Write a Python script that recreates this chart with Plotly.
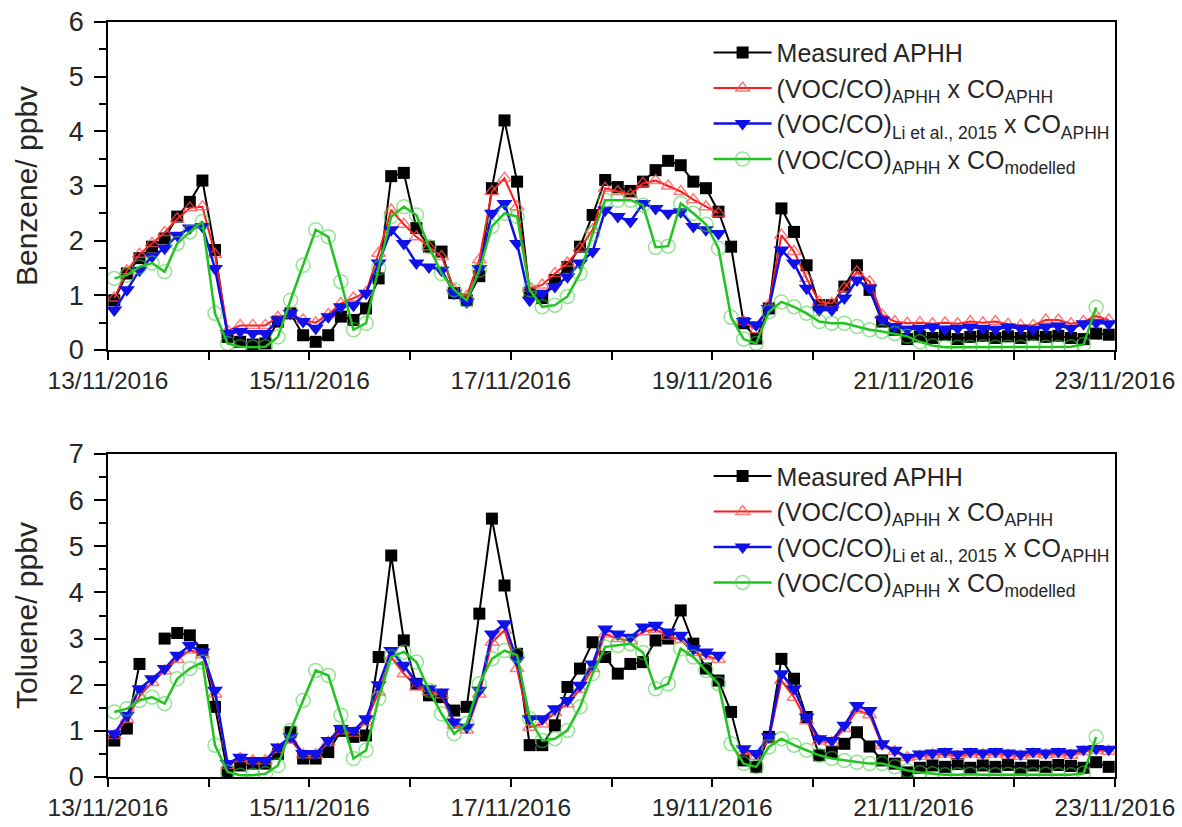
import pandas as pd
import plotly.graph_objects as go

times = pd.date_range("2016-11-13 01:30", periods=80, freq="3h")

benzene_measured = [
    0.91, 1.40, 1.68, 1.89, 2.04, 2.44, 2.71, 3.10,
    1.83, 0.24, 0.15, 0.10, 0.12, 0.52, 0.67, 0.27,
    0.15, 0.27, 0.61, 0.55, 0.76, 1.31, 3.18, 3.24,
    2.23, 1.89, 1.80, 1.04, 0.91, 1.35, 2.96, 4.20,
    3.08, 1.04, 0.95, 1.28, 1.52, 1.89, 2.47, 3.11,
    2.98, 2.91, 3.08, 3.29, 3.46, 3.38, 3.08, 2.96,
    2.53, 1.89, 0.49, 0.21, 0.76, 2.59, 2.16, 1.55,
    0.82, 0.82, 1.16, 1.55, 1.10, 0.52, 0.37, 0.20,
    0.25, 0.22, 0.28, 0.20, 0.24, 0.26, 0.22, 0.25,
    0.22, 0.28, 0.24, 0.26, 0.22, 0.20, 0.30, 0.28]
benzene_ratio_aphh = [
    0.95, 1.45, 1.75, 1.95, 2.15, 2.40, 2.60, 2.62,
    1.75, 0.35, 0.45, 0.45, 0.45, 0.60, 0.65, 0.55,
    0.50, 0.65, 0.85, 0.95, 1.05, 1.77, 2.56, 2.30,
    2.07, 1.89, 1.71, 1.10, 0.98, 1.65, 2.90, 3.14,
    2.62, 1.13, 1.19, 1.40, 1.59, 1.86, 2.20, 2.96,
    2.90, 2.84, 3.05, 3.10, 3.00, 2.90, 2.75, 2.62,
    2.50, None, 0.52, 0.37, 0.82, 2.10, 1.80, 1.31,
    0.88, 0.85, 1.13, 1.43, 1.25, 0.64, 0.52, 0.49,
    0.50, 0.48, 0.50, 0.48, 0.52, 0.50, 0.52, 0.47,
    0.45, 0.45, 0.55, 0.55, 0.48, 0.52, 0.62, 0.55]
benzene_ratio_li = [
    0.73, 1.10, 1.46, 1.71, 1.86, 2.10, 2.23, 2.26,
    1.49, 0.30, 0.34, 0.30, 0.30, 0.55, 0.67, 0.52,
    0.40, 0.61, 0.79, 0.82, 1.04, 1.59, 2.20, 1.95,
    1.59, 1.52, 1.46, 1.04, 0.88, 1.49, 2.50, 2.68,
    1.95, 0.91, 1.04, 1.16, 1.34, 1.59, 1.80, 2.56,
    2.44, 2.35, 2.68, 2.59, 2.50, 2.53, 2.26, 2.20,
    2.13, None, 0.52, 0.46, 0.76, 1.83, 1.59, 1.13,
    0.73, 0.73, 0.95, 1.28, 1.13, 0.55, 0.43, 0.38,
    0.40, 0.42, 0.38, 0.40, 0.42, 0.40, 0.38, 0.42,
    0.40, 0.38, 0.42, 0.44, 0.40, 0.48, 0.50, 0.48]
benzene_modelled = [
    1.31, 1.37, 1.52, 1.59, 1.43, 1.95, 2.16, 2.35,
    0.67, 0.12, 0.06, 0.05, 0.06, 0.24, 0.91, 1.55,
    2.20, 2.07, 1.25, 0.37, 0.49, 1.50, 2.44, 2.62,
    2.47, 1.89, 1.40, 1.10, 0.91, 1.46, 2.26, 2.50,
    2.44, 1.10, 0.79, 0.82, 0.98, 1.40, 2.13, 2.74,
    2.74, 2.74, 2.65, 1.88, 1.90, 2.68, 2.50, 2.30,
    1.86, 0.60, 0.20, 0.12, 0.70, 0.88, 0.79, 0.67,
    0.52, 0.49, 0.49, 0.43, 0.37, 0.34, 0.30, 0.25,
    0.15, 0.08, 0.05, 0.05, 0.05, 0.06, 0.05, 0.05,
    0.05, 0.06, 0.05, 0.05, 0.06, 0.10, 0.78, None]

toluene_measured = [
    0.79, 1.05, 2.45, None, 3.00, 3.12, 3.07, 2.75,
    1.52, 0.10, 0.25, 0.29, 0.29, 0.50, 0.97, 0.40,
    0.40, 0.54, 1.00, 0.87, 0.90, 2.60, 4.80, 2.96,
    2.02, 1.77, 1.73, 1.44, 1.52, 3.54, 5.60, 4.15,
    2.67, 0.69, 0.69, 1.12, 1.95, 2.35, 2.92, 2.60,
    2.24, 2.45, 2.49, 2.96, 3.00, 3.61, 2.89, 2.35,
    2.09, 1.41, 0.36, 0.22, 0.87, 2.56, 2.13, 1.30,
    0.47, 0.54, 0.72, 0.97, 0.66, 0.36, 0.29, 0.10,
    0.20, 0.25, 0.22, 0.28, 0.20, 0.25, 0.22, 0.26,
    0.20, 0.25, 0.22, 0.26, 0.24, 0.20, 0.32, 0.22]
toluene_ratio_aphh = [
    0.90, 1.25, 1.75, 2.05, 2.30, 2.55, 2.75, 2.65,
    1.80, 0.25, 0.40, 0.35, 0.35, 0.60, 0.80, 0.48,
    0.48, 0.75, 1.00, 0.95, 1.20, 1.84, 2.60, 2.24,
    1.95, 1.85, 1.78, 1.12, 1.02, 1.80, 2.92, 3.18,
    2.35, 1.08, 1.15, 1.40, 1.58, 1.90, 2.35, 3.10,
    3.00, 2.95, 3.15, 3.20, 3.05, 2.98, 2.70, 2.62,
    2.55, None, 0.55, 0.45, 0.80, 2.09, 1.73, 1.22,
    0.78, 0.75, 1.05, 1.45, 1.35, 0.68, 0.55, 0.42,
    0.45, 0.48, 0.50, 0.45, 0.50, 0.48, 0.50, 0.47,
    0.45, 0.50, 0.48, 0.50, 0.47, 0.55, 0.58, 0.56]
toluene_ratio_li = [
    0.94, 1.34, 1.91, 2.13, 2.35, 2.64, 2.85, 2.71,
    1.88, 0.29, 0.43, 0.36, 0.36, 0.65, 0.87, 0.51,
    0.51, 0.79, 1.05, 1.01, 1.26, 2.00, 2.74, 2.42,
    2.06, 1.91, 1.84, 1.19, 1.08, 1.88, 3.10, 3.32,
    2.53, 1.26, 1.26, 1.48, 1.66, 1.99, 2.45, 3.21,
    3.10, 3.03, 3.25, 3.29, 3.14, 3.07, 2.78, 2.71,
    2.64, None, 0.61, 0.51, 0.87, 2.24, 1.91, 1.30,
    0.83, 0.79, 1.12, 1.55, 1.44, 0.72, 0.58, 0.43,
    0.50, 0.52, 0.55, 0.50, 0.55, 0.52, 0.55, 0.52,
    0.50, 0.55, 0.52, 0.55, 0.52, 0.60, 0.62, 0.60]
toluene_modelled = [
    1.41, 1.48, 1.66, 1.73, 1.59, 2.13, 2.35, 2.49,
    0.69, 0.11, 0.04, 0.04, 0.07, 0.25, 1.01, 1.66,
    2.31, 2.20, 1.34, 0.40, 0.58, 1.70, 2.60, 2.71,
    2.49, 1.88, 1.37, 0.94, 1.16, 2.02, 2.56, 2.74,
    2.64, 1.26, 0.79, 0.83, 1.01, 1.52, 2.24, 2.82,
    2.85, 2.89, 2.70, 1.91, 2.02, 2.78, 2.60, 2.31,
    2.02, 0.72, 0.29, 0.22, 0.65, 0.83, 0.69, 0.58,
    0.47, 0.40, 0.36, 0.32, 0.29, 0.29, 0.22, 0.14,
    0.10, 0.07, 0.05, 0.05, 0.06, 0.05, 0.05, 0.06,
    0.05, 0.05, 0.06, 0.05, 0.05, 0.08, 0.87, None]

names = [
    "Measured APHH",
    "(VOC/CO)<sub>APHH</sub> x CO<sub>APHH</sub>",
    "(VOC/CO)<sub>Li et al., 2015</sub> x CO<sub>APHH</sub>",
    "(VOC/CO)<sub>APHH</sub> x CO<sub>modelled</sub>",
]

styles = [
    dict(line=dict(color="#000000", width=2),
         marker=dict(symbol="square", size=12, color="#000000")),
    dict(line=dict(color="#ff1a1a", width=2),
         marker=dict(symbol="triangle-up-open", size=12, color="rgba(255,80,80,0.75)",
                     line=dict(width=1.5))),
    dict(line=dict(color="#1010e8", width=2.5),
         marker=dict(symbol="triangle-down", size=14, color="#1010e8")),
    dict(line=dict(color="#1fc41f", width=2.5),
         marker=dict(symbol="circle-open", size=14, color="rgba(60,205,60,0.55)",
                     line=dict(width=1.5))),
]

FONT = "Arial, Liberation Sans, sans-serif"
TXT = "#262626"
fig = go.Figure()

panels = [
    ([benzene_measured, benzene_ratio_aphh, benzene_ratio_li, benzene_modelled], "x", "y", "legend"),
    ([toluene_measured, toluene_ratio_aphh, toluene_ratio_li, toluene_modelled], "x2", "y2", "legend2"),
]
for series, xa, ya, lg in panels:
    for vals, nm, st in zip(series, names, styles):
        fig.add_trace(go.Scatter(
            x=times, y=vals, name=nm, mode="lines+markers",
            line=st["line"], marker=st["marker"],
            xaxis=xa, yaxis=ya, legend=lg, connectgaps=False))

W, H = 1182, 827
xdom = [108 / W, 1115 / W]
top_dom = [1 - 350 / H, 1 - 22 / H]
bot_dom = [1 - 777 / H, 1 - 454 / H]

def xaxis_cfg(anchor):
    return dict(
        domain=xdom, anchor=anchor, type="date", automargin=False,
        range=["2016-11-13", "2016-11-23"],
        tick0="2016-11-13", dtick=2 * 86400000, tickformat="%d/%m/%Y",
        ticks="outside", ticklen=8, tickwidth=1.5, tickcolor="#000",
        showline=True, linecolor="#000", linewidth=1.5, mirror=True,
        showgrid=False, zeroline=False,
        tickfont=dict(size=24.5, color=TXT, family=FONT),
        minor=dict(dtick=86400000, tick0="2016-11-13", ticks="outside",
                   ticklen=8, tickwidth=1.5, tickcolor="#000", showgrid=False),
    )

def yaxis_cfg(anchor, dom, top, title):
    return dict(
        domain=dom, anchor=anchor, range=[0, top], dtick=1, tick0=0, automargin=False,
        ticks="outside", ticklen=12, tickwidth=1.5, tickcolor="#000",
        ticklabelstandoff=5,
        showline=True, linecolor="#000", linewidth=1.5, mirror=True,
        showgrid=False, zeroline=False,
        tickfont=dict(size=27, color=TXT, family=FONT),
        minor=dict(dtick=0.5, ticks="outside", ticklen=7, tickwidth=1.5,
                   tickcolor="#000", showgrid=False),
        title=dict(text=title, font=dict(size=30, color=TXT, family=FONT), standoff=22),
    )

legend_common = dict(
    xanchor="left", yanchor="top", bgcolor="rgba(0,0,0,0)",
    font=dict(size=25, color=TXT, family=FONT), itemwidth=58,
    tracegroupgap=0,
)

fig.update_layout(
    width=W, height=H, margin=dict(l=0, r=0, t=0, b=0, autoexpand=False),
    paper_bgcolor="white", plot_bgcolor="white",
    font=dict(family=FONT, color=TXT),
    xaxis=xaxis_cfg("y"),
    yaxis=yaxis_cfg("x", top_dom, 6, "Benzene/ ppbv"),
    xaxis2=xaxis_cfg("y2"),
    yaxis2=yaxis_cfg("x2", bot_dom, 7, "Toluene/ ppbv"),
    legend=dict(x=0.5995, y=0.964, **legend_common),
    legend2=dict(x=0.5995, y=0.452, **legend_common),
)

fig.write_html("out.html")
